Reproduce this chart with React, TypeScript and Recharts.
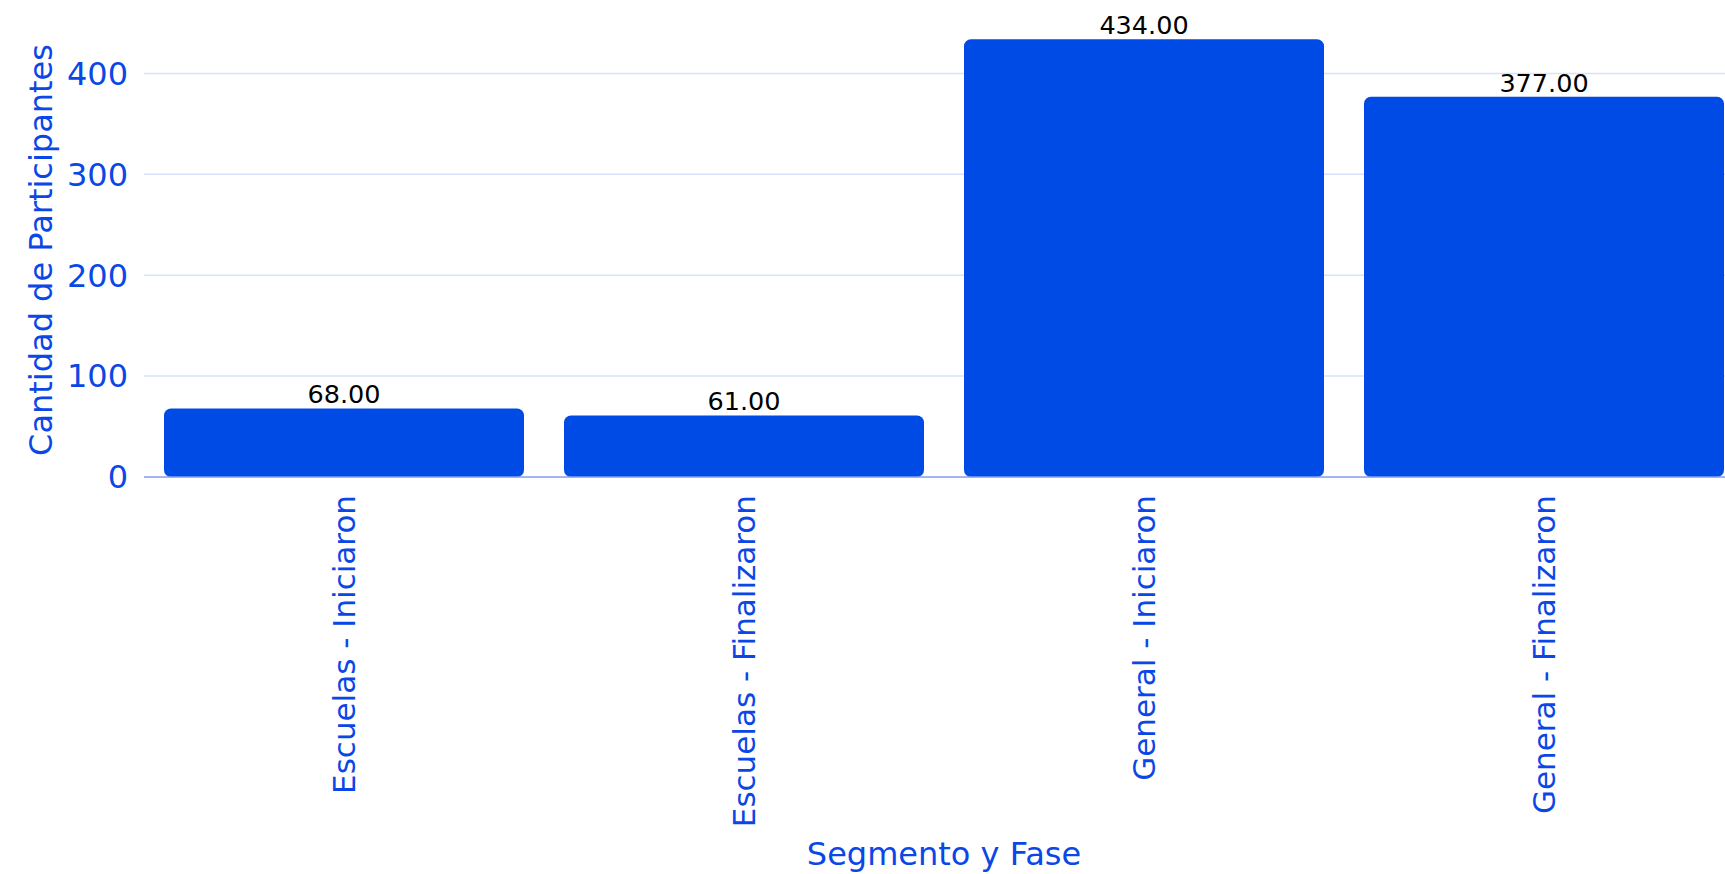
import { Bar, BarChart, CartesianGrid, LabelList, XAxis, YAxis } from "recharts";

const categories = [
  "Escuelas - Iniciaron",
  "Escuelas - Finalizaron",
  "General - Iniciaron",
  "General - Finalizaron",
];
const participantes = [68, 61, 434, 377];
const yTicks = [0, 100, 200, 300, 400];

const data = categories.map((segmento, i) => ({
  segmento,
  participantes: participantes[i],
}));

const BLUE = "#0a47e6";
const FONT = "'DejaVu Sans', sans-serif";

const RotatedTick = (props: any) => {
  const { x, y, payload } = props;
  return (
    <g transform={`translate(${x},${y})`}>
      <text
        x={-10}
        y={0}
        transform="rotate(-90)"
        textAnchor="end"
        dominantBaseline="central"
        fill={BLUE}
        fontSize={31}
        fontFamily={FONT}
      >
        {payload.value}
      </text>
    </g>
  );
};

export default function App() {
  // the plot runs past the window's right edge; a fixed frame clips it without scrollbars
  return (
    <div
      style={{
        position: "fixed",
        left: 0,
        top: 0,
        width: 1725,
        height: 874,
        overflow: "hidden",
        background: "#fff",
      }}
    >
      <div style={{ position: "absolute", left: 8, top: 8, width: 1736, height: 866 }}>
        <BarChart
          width={1736}
          height={866}
          data={data}
          margin={{ top: 15, right: 0, left: 0, bottom: 0 }}
          barCategoryGap={20}
        >
          <CartesianGrid
            vertical={false}
            stroke="#d8e2fb"
            strokeWidth={1.5}
            horizontalValues={[100, 200, 300, 400]}
          />
          <XAxis
            dataKey="segmento"
            height={397}
            interval={0}
            tickLine={false}
            axisLine={{ stroke: "#7f9eee", strokeWidth: 1.5 }}
            tick={<RotatedTick />}
            label={{
              value: "Segmento y Fase",
              position: "insideBottom",
              offset: 9,
              fill: BLUE,
              fontSize: 32,
              fontFamily: FONT,
            }}
          />
          <YAxis
            width={136}
            domain={[0, 450]}
            ticks={yTicks}
            tickLine={false}
            axisLine={false}
            tickSize={0}
            tickMargin={16}
            tick={{ fill: BLUE, fontSize: 32, fontFamily: FONT }}
            label={{
              value: "Cantidad de Participantes",
              angle: -90,
              position: "insideLeft",
              offset: 33,
              fill: BLUE,
              fontSize: 32,
              fontFamily: FONT,
              style: { textAnchor: "middle" },
            }}
          />
          <Bar dataKey="participantes" fill="#004ae6" radius={7} isAnimationActive={false}>
            <LabelList
              dataKey="participantes"
              position="top"
              offset={5}
              fill="#000"
              fontSize={25.5}
              fontFamily={FONT}
              formatter={(v: any) => Number(v).toFixed(2)}
            />
          </Bar>
        </BarChart>
      </div>
    </div>
  );
}
